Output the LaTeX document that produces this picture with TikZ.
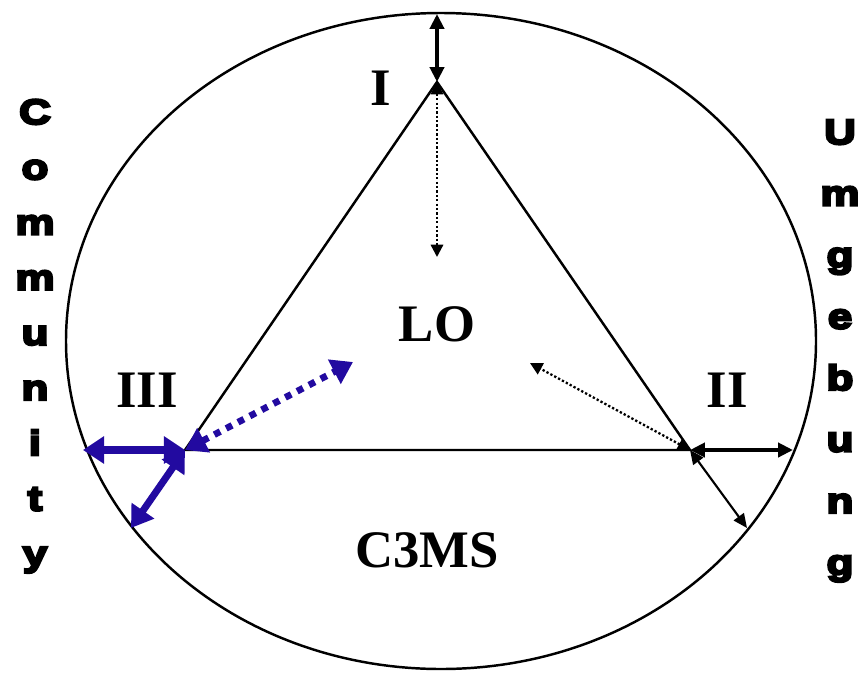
\documentclass[tikz,border=0pt]{standalone}
\usepackage{fontspec}
\setmainfont{Liberation Serif}
\newfontfamily\heavyfont[FakeBold=7, FakeStretch=1.25]{Liberation Sans Bold}
\usepackage{tikz}
\usetikzlibrary{arrows.meta, positioning, calc}
\definecolor{lilablau}{RGB}{34,10,160}

\begin{document}
\begin{tikzpicture}[
  x=0.02cm, y=-0.02cm,
  label/.style={font=\fontsize{30}{32}\selectfont\bfseries, inner sep=0pt},
  sideletter/.style={font=\fontsize{20}{21}\selectfont\heavyfont, anchor=base, inner sep=0pt},
  outline/.style={line width=1.4pt},
  bigarrow/.style={line width=2.3pt, {Triangle[length=8.5pt, width=8pt]}-{Triangle[length=8.5pt, width=8pt]}},
  smallarrow/.style={line width=1.2pt, {Triangle[length=8pt, width=7pt]}-{Triangle[length=8pt, width=7pt]}},
  dotarrow/.style={line width=1.3pt, dash pattern=on 1.3pt off 1.2pt, {Triangle[length=7pt, width=7pt]}-{Triangle[length=7pt, width=7pt]}},
  bluearrow/.style={lilablau, line width=4pt, {Triangle[length=12pt, width=15pt]}-{Triangle[length=12pt, width=15pt]}},
  bluedash/.style={lilablau, line width=3.8pt, dash pattern=on 3.8pt off 3.8pt, {Triangle[length=12pt, width=15pt]}-{Triangle[length=12pt, width=15pt]}}
]
\useasboundingbox (0,0) rectangle (858,673);

% circle and triangle
\draw[outline] (441,341) ellipse [x radius=375, y radius=328];
\coordinate (I) at (437,82);
\coordinate (II) at (690,450);
\coordinate (III) at (185,450);
\draw[outline] (I) -- (II) -- (III) -- cycle;

% end points
\coordinate (top) at (437,14);
\coordinate (rechts) at (793,450);
\coordinate (rechtsunten) at (747,528);
\coordinate (links) at (83,450);
\coordinate (linksunten) at (131,528);
\coordinate (innenI) at (437,257);
\coordinate (innenII) at (530,363);
\coordinate (innenIII) at (353,362);

% arrows
\draw[bigarrow] (top) -- (I);
\draw[dotarrow] (I) -- (innenI);
\draw[bigarrow] (II) -- (rechts);
\draw[smallarrow] (II) -- (rechtsunten);
\draw[dotarrow] (II) -- (innenII);
\draw[bluearrow] (links) -- (III);
\draw[bluearrow] (III) -- (linksunten);
\draw[bluedash] (III) -- (innenIII);

% labels
\node[label] (lI) at (381,88) {I};
\node[label] (lII) at (727,390) {II};
\node[label] (lIII) at (147,390) {III};
\node[label] (lo) at (437,324) {LO};
\node[label] (c3ms) at (427,550) {C3MS};

% side texts
\foreach \ch [count=\i] in {C,o,m,m,u,n,i,t,y}
  \node[sideletter] (comm-\i) at (35,{124+55.2*(\i-1)}) {\ch};
\foreach \ch [count=\i] in {U,m,g,e,b,u,n,g}
  \node[sideletter] (umg-\i) at (840,{144+61.5*(\i-1)}) {\ch};
\end{tikzpicture}
\end{document}
